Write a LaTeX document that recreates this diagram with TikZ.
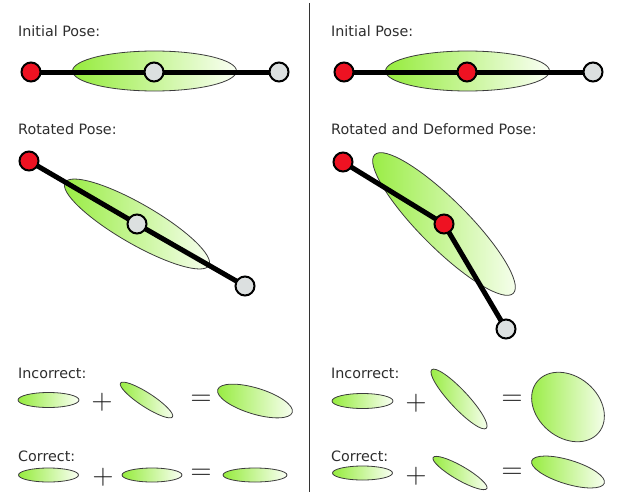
\documentclass[tikz,border=0pt]{standalone}
\usepackage{fontspec}
\setmainfont{DejaVu Sans}
\newfontfamily\opfont{Latin Modern Roman}
\pgfdeclarelayer{back}
\pgfdeclarelayer{bones}
\pgfsetlayers{back,bones,main}
\definecolor{leafgreen}{RGB}{150,236,62}
\definecolor{leafwhite}{RGB}{250,255,244}
\definecolor{jointred}{RGB}{238,18,34}
\definecolor{jointgrey}{RGB}{220,224,224}
\definecolor{caption}{RGB}{45,45,45}
\tikzset{
  blob/.style={draw={rgb,255:red,60;green,60;blue,60}, line width=0.8pt,
    left color=leafgreen, right color=leafwhite},
  joint/.style={circle, draw=black, line width=2pt, minimum size=19pt, inner sep=0pt},
  redjoint/.style={joint, fill=jointred},
  greyjoint/.style={joint, fill=jointgrey},
  bone/.style={line width=5pt, black},
  label/.style={anchor=base west, inner sep=0pt, text=caption, font=\fontsize{14.3}{16}\selectfont},
  op/.style={inner sep=0pt, text=black!90, font=\opfont\fontsize{29}{30}\selectfont}
}
\begin{document}
\begin{tikzpicture}[x=1pt, y=-1pt]
\useasboundingbox (0,0) rectangle (623,495);

% divider between the two columns
\draw[line width=1pt, black!80] (309,3) -- (309,492);

% ---------------- left column ----------------
\node[label] (tl1) at (18,37) {Initial Pose:};
\begin{pgfonlayer}{back}
  \shade[blob] (154.5,71) ellipse [x radius=82, y radius=20];
\end{pgfonlayer}
\node[redjoint]  (la1) at (31,72) {};
\node[greyjoint] (la2) at (154,72) {};
\node[greyjoint] (la3) at (279,72) {};
\begin{pgfonlayer}{bones}
  \draw[bone] (la1.center) -- (la2.center) -- (la3.center);
\end{pgfonlayer}

\node[label] (tl2) at (18,134) {Rotated Pose:};
\begin{pgfonlayer}{back}
  \shade[blob, rotate around={-30:(137,224)}] (137,224) ellipse [x radius=83, y radius=20];
\end{pgfonlayer}
\node[redjoint]  (lb1) at (29,161) {};
\node[greyjoint] (lb2) at (137,224) {};
\node[greyjoint] (lb3) at (245,286) {};
\begin{pgfonlayer}{bones}
  \draw[bone] (lb1.center) -- (lb2.center) -- (lb3.center);
\end{pgfonlayer}

\node[label] (tl3) at (18,378) {Incorrect:};
\shade[blob] (48.5,400) ellipse [x radius=30.5, y radius=7.5];
\node[op] (lp1) at (102,402) {+};
\shade[blob, rotate around={-33:(146.5,400)}] (146.5,400) ellipse [x radius=31, y radius=7];
\node[op] (le1) at (201,400) {=};
\shade[blob, rotate around={-17:(255,401)}] (255,401) ellipse [x radius=39, y radius=13];

\node[label] (tl4) at (18,461) {Correct:};
\shade[blob] (48.5,475) ellipse [x radius=30, y radius=7];
\node[op] (lp2) at (103,477) {+};
\shade[blob] (152,475) ellipse [x radius=30, y radius=7];
\node[op] (le2) at (201,474) {=};
\shade[blob] (255,475) ellipse [x radius=32, y radius=7];

% ---------------- right column ----------------
\node[label] (tr1) at (331,37) {Initial Pose:};
\begin{pgfonlayer}{back}
  \shade[blob] (467.5,71) ellipse [x radius=82, y radius=20];
\end{pgfonlayer}
\node[redjoint]  (ra1) at (344,72) {};
\node[redjoint]  (ra2) at (467,72) {};
\node[greyjoint] (ra3) at (593,72) {};
\begin{pgfonlayer}{bones}
  \draw[bone] (ra1.center) -- (ra2.center) -- (ra3.center);
\end{pgfonlayer}

\node[label] (tr2) at (331,134) {Rotated and Deformed Pose:};
\begin{pgfonlayer}{back}
  \shade[blob, rotate around={-45:(444,224)}] (444,224) ellipse [x radius=98, y radius=24];
\end{pgfonlayer}
\node[redjoint]  (rb1) at (343,162) {};
\node[redjoint]  (rb2) at (444,224) {};
\node[greyjoint] (rb3) at (506,329) {};
\begin{pgfonlayer}{bones}
  \draw[bone] (rb1.center) -- (rb2.center) -- (rb3.center);
\end{pgfonlayer}

\node[label] (tr3) at (331,378) {Incorrect:};
\shade[blob] (362.5,401) ellipse [x radius=30.5, y radius=7.5];
\node[op] (rp1) at (416,403) {+};
\shade[blob, rotate around={-47:(459,399)}] (459,399) ellipse [x radius=40, y radius=9];
\node[op] (re1) at (512,400) {=};
\shade[blob, rotate around={-40:(568,407)}] (568,407) ellipse [x radius=40, y radius=30.5];

\node[label] (tr4) at (331,461) {Correct:};
\shade[blob] (362.5,473) ellipse [x radius=30, y radius=7];
\node[op] (rp2) at (416,476) {+};
\shade[blob, rotate around={-30:(460,473)}] (460,473) ellipse [x radius=31, y radius=7];
\node[op] (re2) at (512,473) {=};
\shade[blob, rotate around={-17:(568,472)}] (568,472) ellipse [x radius=38, y radius=12];
\end{tikzpicture}
\end{document}
